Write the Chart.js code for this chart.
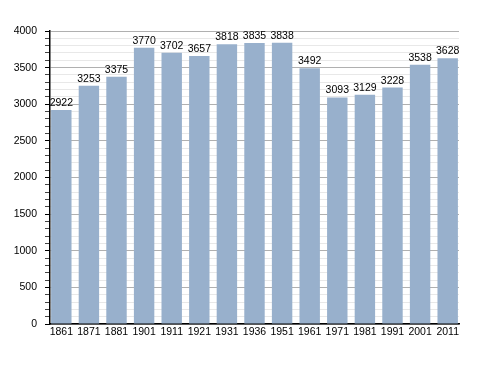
<!DOCTYPE html>
<html>
<head>
<meta charset="utf-8">
<script src="https://cdn.jsdelivr.net/npm/chart.js@4"></script>
<style>
  html, body { margin: 0; padding: 0; background: #fff; }
  #wrap { width: 488px; height: 373px; }
</style>
</head>
<body>
<div id="wrap"><canvas id="myChart" width="488" height="373"></canvas></div>
<script>
// dati popolazione
const anni = ["1861", "1871", "1881", "1901", "1911", "1921", "1931", "1936", "1951", "1961", "1971", "1981", "1991", "2001", "2011"];
const abitanti = [2922, 3253, 3375, 3770, 3702, 3657, 3818, 3835, 3838, 3492, 3093, 3129, 3228, 3538, 3628];
const yMax = 4000;
const passoMajor = 500;

// etichette sopra le barre
const valoriSopra = {
  id: "valoriSopra",
  afterDatasetsDraw(chart) {
    const ctx = chart.ctx;
    const meta = chart.getDatasetMeta(0);
    ctx.save();
    ctx.font = "10.5px 'Liberation Sans', Arial, sans-serif";
    ctx.fillStyle = "#000";
    ctx.textAlign = "center";
    ctx.textBaseline = "alphabetic";
    meta.data.forEach((bar, i) => {
      ctx.fillText(abitanti[i], bar.x, bar.y - 4);
    });
    ctx.restore();
  }
};

const font = { family: "'Liberation Sans', Arial, sans-serif", size: 10.5 };

new Chart("myChart", {
  type: "bar",
  data: {
    datasets: [{
      data: abitanti.map((v, i) => ({ x: i, y: v })),
      backgroundColor: "#98b0cc",
      barPercentage: 0.74,
      categoryPercentage: 1
    }]
  },
  options: {
    responsive: false,
    animation: false,
    layout: { padding: { left: 0, right: 29, top: 31, bottom: 0 } },
    plugins: { legend: { display: false }, tooltip: { enabled: false } },
    scales: {
      x: {
        type: "linear",
        min: -0.41,
        max: anni.length - 1 + 0.41,
        offset: false,
        afterFit: s => { s.height = 49; },
        afterBuildTicks: s => { s.ticks = anni.map((a, i) => ({ value: i })); },
        grid: { display: false, drawTicks: false },
        border: { color: "#000", width: 1.5 },
        ticks: {
          color: "#000",
          padding: 2,
          maxRotation: 0,
          autoSkip: false,
          font: font,
          callback: v => anni[v]
        }
      },
      y: {
        min: 0,
        max: yMax,
        afterFit: s => { s.width = 50; },
        border: { color: "#000", width: 1.5 },
        grid: {
          color: c => (c.tick.value % passoMajor === 0 ? "#b0b0b0" : "#e8e8e8"),
          tickColor: c => (c.tick.value % passoMajor === 0 ? "#000" : "#444"),
          tickLength: 5
        },
        ticks: {
          stepSize: 100,
          autoSkip: false,
          color: "#000",
          padding: 8,
          font: font,
          callback: v => (v % passoMajor === 0 ? v : "")
        }
      }
    }
  },
  plugins: [valoriSopra]
});
</script>
</body>
</html>
